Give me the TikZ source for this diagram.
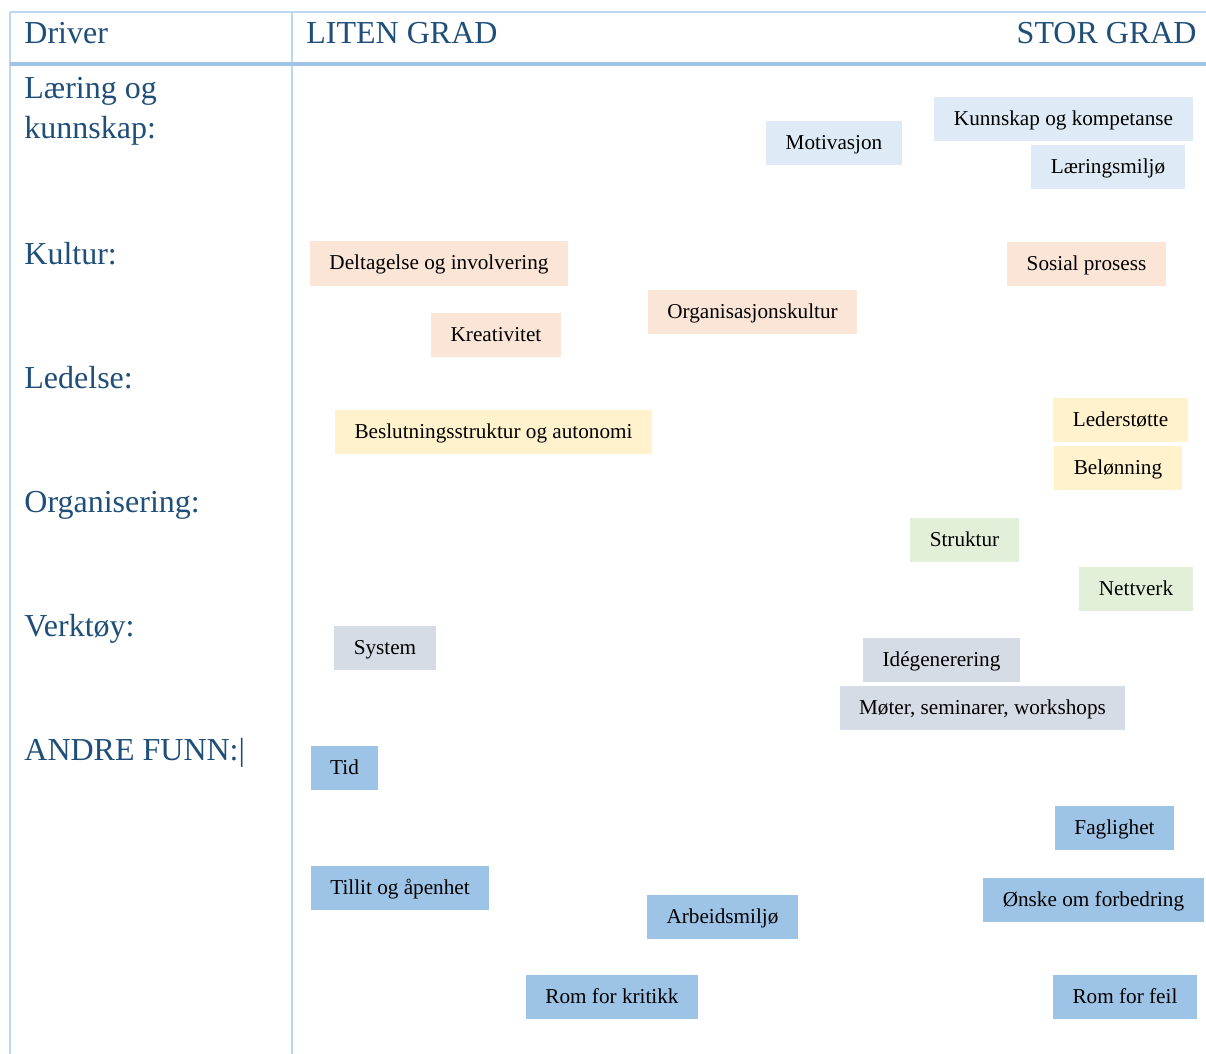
\documentclass[tikz,border=0pt]{standalone}
\usepackage{fontspec}
\setmainfont{Liberation Serif}
\usepackage{xcolor}
\usetikzlibrary{positioning}
\definecolor{headblue}{RGB}{31,78,121}
\definecolor{rulelt}{RGB}{189,215,238}
\definecolor{rulebl}{RGB}{157,195,230}
\definecolor{cLaer}{RGB}{222,235,247}
\definecolor{cKult}{RGB}{251,229,214}
\definecolor{cLed}{RGB}{255,242,204}
\definecolor{cOrg}{RGB}{226,240,217}
\definecolor{cVerk}{RGB}{214,220,229}
\definecolor{cAndre}{RGB}{157,195,230}

\begin{document}
\begin{tikzpicture}[x=0.5pt,y=-0.5pt,font=\fontsize{10.6}{12}\selectfont,
  tag/.style={minimum height=22pt,inner xsep=9.8pt,inner ysep=0pt,text height=0.85em,text depth=0.2em,anchor=center},
  hd/.style={anchor=base west,inner sep=0pt,text=headblue,font=\fontsize{16}{18}\selectfont}]
\useasboundingbox (0,0) rectangle (1206,1054);
% table
\draw[rulelt,line width=1pt] (10,12)--(1206,12);
\draw[rulelt,line width=1pt] (10,12)--(10,1054);
\draw[rulelt,line width=1pt] (292,12)--(292,1054);
\draw[rulebl,line width=1.6pt] (10,64)--(1206,64);
% headings
\node[hd] (drv) at (24,44) {Driver};
\node[hd] (lit) at (306,44) {LITEN GRAD};
\node[hd,anchor=base east] (sto) at (1197,44) {STOR GRAD};
\node[hd] (h1a) at (24,99) {Læring og};
\node[hd] (h1b) at (24,139) {kunnskap:};
\node[hd] (h2) at (24,264) {Kultur:};
\node[hd] (h3) at (24,388) {Ledelse:};
\node[hd] (h4) at (24,512) {Organisering:};
\node[hd] (h5) at (24,636) {Verktøy:};
\node[hd] (h6) at (24,760) {ANDRE FUNN:|};
% laering og kunnskap
\node[tag,fill=cLaer] (mot) at (834,143) {Motivasjon};
\node[tag,fill=cLaer] (kun) at (1063.5,119) {Kunnskap og kompetanse};
\node[tag,fill=cLaer] (lms) at (1108,167) {Læringsmiljø};
% kultur
\node[tag,fill=cKult] (del) at (439,263.5) {Deltagelse og involvering};
\node[tag,fill=cKult] (sos) at (1086.5,264) {Sosial prosess};
\node[tag,fill=cKult] (okul) at (752.5,312) {Organisasjonskultur};
\node[tag,fill=cKult] (kre) at (496,335) {Kreativitet};
% ledelse
\node[tag,fill=cLed] (bes) at (493.5,432) {Beslutningsstruktur og autonomi};
\node[tag,fill=cLed] (lst) at (1120.5,420) {Lederstøtte};
\node[tag,fill=cLed] (bel) at (1118,468) {Belønning};
% organisering
\node[tag,fill=cOrg] (str) at (964.5,540) {Struktur};
\node[tag,fill=cOrg] (net) at (1136,589) {Nettverk};
% verktoy
\node[tag,fill=cVerk] (sys) at (385,648) {System};
\node[tag,fill=cVerk] (ide) at (941.5,660) {Idégenerering};
\node[tag,fill=cVerk] (mot2) at (982.5,708) {Møter, seminarer, workshops};
% andre funn
\node[tag,fill=cAndre] (tid) at (344.5,768) {Tid};
\node[tag,fill=cAndre] (fag) at (1114.5,827.5) {Faglighet};
\node[tag,fill=cAndre] (til) at (400,888) {Tillit og åpenhet};
\node[tag,fill=cAndre] (arb) at (722.5,917) {Arbeidsmiljø};
\node[tag,fill=cAndre] (onsk) at (1093.5,900) {Ønske om forbedring};
\node[tag,fill=cAndre] (rkr) at (612,997) {Rom for kritikk};
\node[tag,fill=cAndre] (rfe) at (1125,997) {Rom for feil};
\end{tikzpicture}
\end{document}
